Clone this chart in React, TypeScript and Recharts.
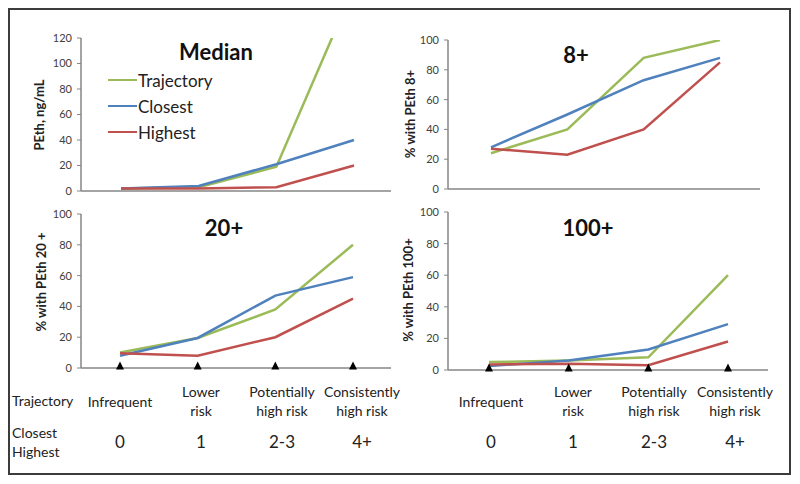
import React from "react";
import { LineChart, Line, XAxis, YAxis } from "recharts";

const categories = ["Infrequent", "Lower risk", "Potentially high risk", "Consistently high risk"];
const codes = ["0", "1", "2-3", "4+"];
const seriesNames = ["Trajectory", "Closest", "Highest"];

// Median PEth, ng/mL
const medianTrajectory = [2, 3, 19, 160];
const medianClosest = [2, 4, 21, 40];
const medianHighest = [2, 2, 3, 20];

// % with PEth 8+
const p8Trajectory = [24, 40, 88, 100];
const p8Closest = [28, 50, 73, 88];
const p8Highest = [27, 23, 40, 85];

// % with PEth 20+
const p20Trajectory = [10, 19.5, 38, 80];
const p20Closest = [8, 19.5, 47, 59];
const p20Highest = [9.5, 8, 20, 45];

// % with PEth 100+
const p100Trajectory = [5, 6, 8, 60];
const p100Closest = [2.5, 6, 13, 29];
const p100Highest = [3.5, 4, 3, 18];

const ticks120 = [0, 20, 40, 60, 80, 100, 120];
const ticks100 = [0, 20, 40, 60, 80, 100];

const COLORS = ["#9BBB59", "#4F81BD", "#C0504D"];
const AXIS = "#868686";
const FONT = "Lato, 'Open Sans', sans-serif";

const build = (t: number[], c: number[], h: number[]) =>
  categories.map((name, i) => ({ name, Trajectory: t[i], Closest: c[i], Highest: h[i] }));

const Triangle = (props: any) => {
  const { x, y } = props;
  return <path d={`M${x - 4},${y + 1.5} L${x + 4},${y + 1.5} L${x},${y - 6.5} Z`} fill="#000" />;
};

type PanelProps = {
  data: any[];
  left: number;
  top: number;
  width: number;
  height: number;
  margin: { top: number; right: number; bottom: number; left: number };
  yWidth: number;
  pad: { left: number; right: number };
  max: number;
  ticks: number[];
  yLabel: string;
  labelX: number;
  labelY: number;
  title: string;
  titleX: number;
  titleY: number;
  triangles?: boolean;
  legend?: boolean;
};

function Panel(p: PanelProps) {
  return (
    <div style={{ position: "absolute", left: p.left, top: p.top, width: p.width, height: p.height }}>
      <LineChart width={p.width} height={p.height} data={p.data} margin={p.margin}>
        <XAxis
          dataKey="name"
          height={1}
          padding={p.pad}
          axisLine={{ stroke: AXIS, strokeWidth: 1.5 }}
          tickLine={false}
          tickSize={0}
          tickMargin={0}
          interval={0}
          tick={p.triangles ? <Triangle /> : false}
        />
        <YAxis
          width={p.yWidth}
          domain={[0, p.max]}
          ticks={p.ticks}
          allowDataOverflow
          axisLine={{ stroke: AXIS, strokeWidth: 1.5 }}
          tickLine={{ stroke: AXIS }}
          tickSize={4}
          tickMargin={5}
          tick={{ fill: "#404040", fontSize: 11, fontFamily: FONT }}
          label={() => (
            <text
              x={p.labelX}
              y={p.labelY}
              transform={`rotate(-90 ${p.labelX} ${p.labelY})`}
              textAnchor="middle"
              dominantBaseline="central"
              fontFamily={FONT}
              fontWeight="bold"
              fontSize={13}
              fill="#222"
            >
              {p.yLabel}
            </text>
          )}
        />
        {seriesNames.map((s, i) => (
          <Line key={s} dataKey={s} stroke={COLORS[i]} strokeWidth={2.5} dot={false} isAnimationActive={false} />
        ))}
      </LineChart>
      <div
        style={{
          position: "absolute",
          left: p.titleX,
          top: p.titleY,
          transform: "translate(-50%, -50%)",
          fontFamily: FONT,
          fontWeight: "bold",
          fontSize: 22,
          color: "#111",
          whiteSpace: "nowrap",
        }}
      >
        {p.title}
      </div>
      {p.legend && (
        <div style={{ position: "absolute", left: 108, top: 67, fontFamily: FONT, fontSize: 17, color: "#222" }}>
          {seriesNames.map((s, i) => (
            <div key={s} style={{ display: "flex", alignItems: "center", height: 26 }}>
              <div style={{ width: 29, height: 2.5, background: COLORS[i], marginRight: 1 }} />
              <span>{s}</span>
            </div>
          ))}
        </div>
      )}
    </div>
  );
}

const rowLabel: React.CSSProperties = {
  position: "absolute",
  fontFamily: FONT,
  fontSize: 14,
  color: "#222",
  lineHeight: "19px",
};

function CategoryRow({ xs }: { xs: number[] }) {
  return (
    <>
      {categories.map((c, i) => {
        const words = c.split(" ");
        const lines = words.length === 1 ? [c] : words.length === 2 ? words : [words[0], words.slice(1).join(" ")];
        return (
          <div
            key={c}
            style={{
              ...rowLabel,
              left: xs[i],
              top: 401,
              transform: "translate(-50%, -50%)",
              textAlign: "center",
              whiteSpace: "nowrap",
            }}
          >
            {lines.map((l) => (
              <div key={l}>{l}</div>
            ))}
          </div>
        );
      })}
      {codes.map((c, i) => (
        <div
          key={c}
          style={{
            ...rowLabel,
            fontSize: 17,
            left: xs[i],
            top: 441,
            transform: "translate(-50%, -50%)",
          }}
        >
          {c}
        </div>
      ))}
    </>
  );
}

export default function App() {
  return (
    <div style={{ position: "absolute", left: 0, top: 0, width: 800, height: 484, background: "#fff", overflow: "hidden" }}>
      <div
        style={{
          position: "absolute",
          left: 8,
          top: 8,
          width: 783,
          height: 467,
          border: "2px solid #3c3c3c",
          boxSizing: "border-box",
        }}
      />
      <Panel
        data={build(medianTrajectory, medianClosest, medianHighest)}
        left={0}
        top={0}
        width={400}
        height={200}
        margin={{ top: 38, right: 9, bottom: 8, left: 21 }}
        yWidth={60}
        pad={{ left: 40, right: 37 }}
        max={120}
        ticks={ticks120}
        yLabel="PEth, ng/mL"
        labelX={39}
        labelY={115}
        title="Median"
        titleX={216}
        titleY={51}
        legend
      />
      <Panel
        data={build(p8Trajectory, p8Closest, p8Highest)}
        left={400}
        top={0}
        width={400}
        height={200}
        margin={{ top: 40, right: 40, bottom: 10, left: 8 }}
        yWidth={40}
        pad={{ left: 43, right: 40 }}
        max={100}
        ticks={ticks100}
        yLabel="% with PEth 8+"
        labelX={10}
        labelY={114}
        title="8+"
        titleX={176}
        titleY={54}
      />
      <Panel
        data={build(p20Trajectory, p20Closest, p20Highest)}
        left={0}
        top={195}
        width={400}
        height={185}
        margin={{ top: 19, right: 9, bottom: 11, left: 21 }}
        yWidth={60}
        pad={{ left: 39, right: 38 }}
        max={100}
        ticks={ticks100}
        yLabel="% with PEth 20 +"
        labelX={41}
        labelY={87}
        title="20+"
        titleX={224}
        titleY={32}
        triangles
      />
      <Panel
        data={build(p100Trajectory, p100Closest, p100Highest)}
        left={400}
        top={195}
        width={400}
        height={185}
        margin={{ top: 17, right: 32, bottom: 9, left: 8 }}
        yWidth={40}
        pad={{ left: 41, right: 40 }}
        max={100}
        ticks={ticks100}
        yLabel="% with PEth 100+"
        labelX={8}
        labelY={95}
        title="100+"
        titleX={188}
        titleY={32}
        triangles
      />
      <div style={{ ...rowLabel, left: 12, top: 391 }}>Trajectory</div>
      <div style={{ ...rowLabel, left: 12, top: 423 }}>
        <div>Closest</div>
        <div>Highest</div>
      </div>
      <CategoryRow xs={[120, 201, 282, 362]} />
      <CategoryRow xs={[491, 573, 654, 735]} />
    </div>
  );
}
